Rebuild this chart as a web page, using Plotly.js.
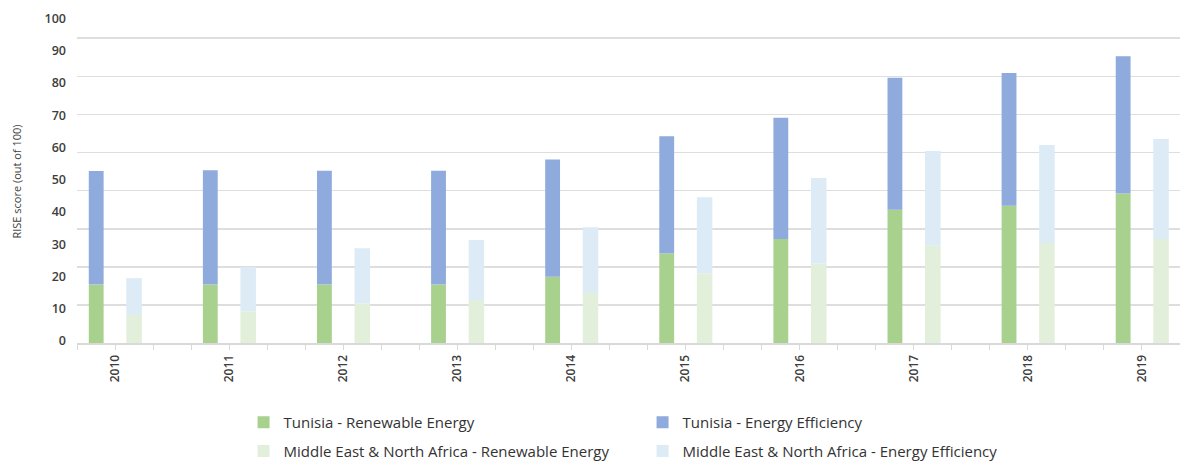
<!DOCTYPE html>
<html>
<head>
<meta charset="utf-8">
<script src="https://cdn.plot.ly/plotly-3.0.1.min.js"></script>
<style>
html,body{margin:0;padding:0;background:#fff;}
#chart{width:1180px;height:462px;}
</style>
</head>
<body>
<div id="chart"></div>
<script>
// ---- data ----
const years = [2010, 2011, 2012, 2013, 2014, 2015, 2016, 2017, 2018, 2019];
const yearLabels = ["2010","2011","2012","2013","2014","2015","2016","2017","2018","2019"];
const tunisiaRE = [18.1, 18.1, 18.1, 18.1, 20.5, 27.7, 32.2, 41.3, 42.5, 46.3];
const tunisiaEE = [35.2, 35.4, 35.3, 35.3, 36.4, 36.4, 37.6, 40.9, 41.2, 42.6];
const menaRE    = [8.7, 9.8, 12.3, 13.3, 15.5, 21.5, 24.6, 30.1, 31.0, 32.2];
const menaEE    = [11.4, 13.7, 17.1, 18.6, 20.4, 23.7, 26.5, 29.4, 30.4, 31.0];
const yTickVals = [0,10,20,30,40,50,60,70,80,90,100];

const seriesNames = [
  "Tunisia - Renewable Energy",
  "Tunisia - Energy Efficiency",
  "Middle East & North Africa - Renewable Energy",
  "Middle East & North Africa - Energy Efficiency"
];
const colors = ["#a9d18e", "#8faadc", "#e2efda", "#ddebf7"];

const tOff = -0.23, tW = 0.13;
const mOff = 0.099, mW = 0.136;

const traces = [
  {type:'bar', name:seriesNames[0], x:years, y:tunisiaRE, offset:tOff, width:tW,
   marker:{color:colors[0]}, legend:'legend'},
  {type:'bar', name:seriesNames[1], x:years, y:tunisiaEE, base:tunisiaRE, offset:tOff, width:tW,
   marker:{color:colors[1]}, legend:'legend'},
  {type:'bar', name:seriesNames[2], x:years, y:menaRE, offset:mOff, width:mW,
   marker:{color:colors[2]}, legend:'legend2'},
  {type:'bar', name:seriesNames[3], x:years, y:menaEE, base:menaRE, offset:mOff, width:mW,
   marker:{color:colors[3]}, legend:'legend2'}
];

const legendCommon = {
  orientation:'h', xref:'container', yref:'container', xanchor:'left', yanchor:'top',
  entrywidth:354, entrywidthmode:'pixels',
  font:{family:'Open Sans, sans-serif', size:15, color:'#333333'},
  bgcolor:'rgba(0,0,0,0)', traceorder:'normal'
};

const layout = {
  width:1180, height:462,
  margin:{l:77, r:0, t:20, b:119},
  paper_bgcolor:'#ffffff', plot_bgcolor:'#ffffff',
  barmode:'overlay',
  showlegend:true,
  legend:Object.assign({}, legendCommon, {x:0.2064, y:0.121}),
  legend2:Object.assign({}, legendCommon, {x:0.2064, y:0.059}),
  xaxis:{
    type:'linear', range:[2009.6667, 2019.3333], fixedrange:true, automargin:false,
    tickmode:'array', tickvals:years, ticktext:yearLabels, tickangle:-90,
    ticks:'outside', ticklen:5, tickcolor:'#d9d9d9', tickwidth:1,
    minor:{tickmode:'linear', tick0:2009.6667, dtick:1/3, ticks:'outside', ticklen:5, tickcolor:'#d9d9d9', tickwidth:1, showgrid:false},
    showgrid:false, zeroline:false,
    showline:true, linecolor:'#d9d9d9', linewidth:2,
    tickfont:{family:'Open Sans, sans-serif', size:12, color:'#3d3d3d', weight:600}
  },
  yaxis:{
    range:[0, 100.1], fixedrange:true, automargin:false,
    tickmode:'array', tickvals:yTickVals,
    showgrid:false, zeroline:false, showline:false,
    ticks:'', ticklabelstandoff:10, ticklabelshift:-2,
    minor:{tickmode:'linear', tick0:0, dtick:11.807, showgrid:true, gridcolor:'#dedede', gridwidth:1.6, ticks:''},
    tickfont:{family:'Open Sans, sans-serif', size:12.5, color:'#3d3d3d', weight:600},
    title:{text:'RISE score (out of 100)', standoff:20,
      font:{family:'Open Sans, sans-serif', size:11, color:'#404040'}}
  }
};

Plotly.newPlot('chart', traces, layout, {displayModeBar:false, staticPlot:true});
</script>
</body>
</html>
